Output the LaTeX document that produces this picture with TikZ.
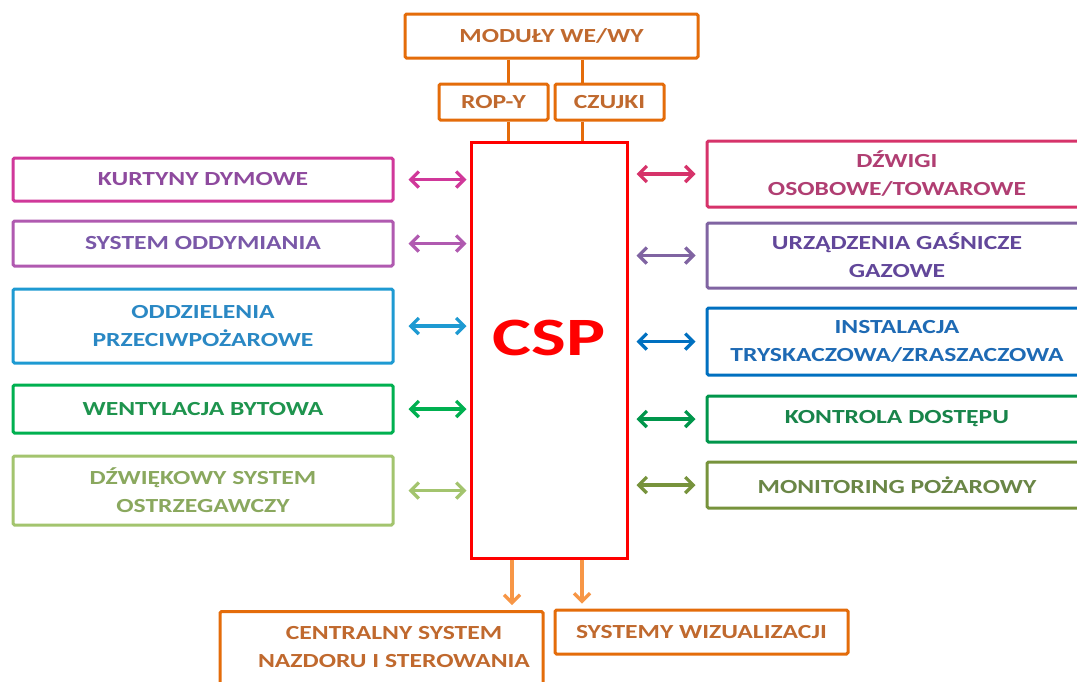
\documentclass[tikz,border=0pt]{standalone}
\usepackage{fontspec}
\setmainfont{Carlito}
\newfontfamily\bxfont[FakeStretch=1.28]{Carlito}
\newfontfamily\cspfont[FakeStretch=1.36]{Carlito}
\usetikzlibrary{arrows.meta}
\definecolor{orng}{HTML}{E46C0A}
\definecolor{orngl}{HTML}{F79646}
\definecolor{orngt}{HTML}{C0692E}
\definecolor{kdc}{HTML}{D0389A}\definecolor{kdt}{HTML}{8E4A9E}
\definecolor{soc}{HTML}{B05AB0}\definecolor{sot}{HTML}{7A58A8}
\definecolor{odc}{HTML}{1E9AD2}\definecolor{odt}{HTML}{2A88C4}
\definecolor{wbc}{HTML}{00B050}\definecolor{wbt}{HTML}{1E944E}
\definecolor{dsc}{HTML}{A3C46E}\definecolor{dst}{HTML}{8AA85E}
\definecolor{dwc}{HTML}{D6336A}\definecolor{dwt}{HTML}{B03E72}
\definecolor{ugc}{HTML}{8064A2}\definecolor{ugt}{HTML}{62479A}
\definecolor{itc}{HTML}{0070C0}\definecolor{itt}{HTML}{1E6AB4}
\definecolor{kcc}{HTML}{00964B}\definecolor{kct}{HTML}{18844A}
\definecolor{mpc}{HTML}{77933C}\definecolor{mpt}{HTML}{6A8646}
\tikzset{
  bx/.style={draw, line width=3pt, rounded corners=1.5pt, fill=white, align=center,
    inner sep=0pt, font=\bxfont\fontsize{20}{28}\selectfont\bfseries},
  arr/.style={line width=3.2pt, {Straight Barb[length=8pt,width=16pt]}-{Straight Barb[length=8pt,width=16pt]}},
  darr/.style={line width=3.2pt, orngl, -{Straight Barb[length=8pt,width=16pt]}},
  vline/.style={line width=3pt, orng},
}
\begin{document}
\begin{tikzpicture}[x=1pt,y=-1pt]
\useasboundingbox (0,0) rectangle (1077,681);
% top
\node[bx, draw=orng, text=orngt, minimum width=293pt, minimum height=44pt] (mod) at (551.5,36) {MODUŁY WE/WY};
\node[bx, draw=orng, text=orngt, minimum width=109pt, minimum height=36pt] (rop) at (493.5,102) {ROP-Y};
\node[bx, draw=orng, text=orngt, minimum width=109pt, minimum height=36pt] (czu) at (609.5,102) {CZUJKI};
% CSP
\node[draw=red, line width=3pt, fill=white, minimum width=156pt, minimum height=416pt, inner sep=0pt] (csp) at (549,350) {};
\node[text=red, font=\cspfont\fontsize{54}{60}\selectfont\bfseries] (csptxt) at (549,338) {CSP};
\coordinate (l1) at (508,0);
\coordinate (l2) at (582,0);
\draw[vline] (mod.south -| l1) -- (rop.north -| l1);
\draw[vline] (mod.south -| l2) -- (czu.north -| l2);
\draw[vline] (rop.south -| l1) -- (csp.north -| l1);
\draw[vline] (czu.south -| l2) -- (csp.north -| l2);
% left
\node[bx, draw=kdc, text=kdt, minimum width=380pt, minimum height=43pt] (kd) at (203,179.5) {KURTYNY DYMOWE};
\node[bx, draw=soc, text=sot, minimum width=380pt, minimum height=45pt] (so) at (203,243.5) {SYSTEM ODDYMIANIA};
\node[bx, draw=odc, text=odt, minimum width=380pt, minimum height=74pt] (od) at (203,326) {ODDZIELENIA\\PRZECIWPOŻAROWE};
\node[bx, draw=wbc, text=wbt, minimum width=380pt, minimum height=48pt] (wb) at (203,409) {WENTYLACJA BYTOWA};
\node[bx, draw=dsc, text=dst, minimum width=380pt, minimum height=69pt] (ds) at (203,490.5) {DŹWIĘKOWY SYSTEM\\OSTRZEGAWCZY};
% right
\node[bx, draw=dwc, text=dwt, minimum width=380pt, minimum height=66pt] (dw) at (897,174) {DŹWIGI\\OSOBOWE/TOWAROWE};
\node[bx, draw=ugc, text=ugt, minimum width=380pt, minimum height=65pt] (ug) at (897,255.5) {URZĄDZENIA GAŚNICZE\\GAZOWE};
\node[bx, draw=itc, text=itt, minimum width=380pt, minimum height=67pt] (it) at (897,341.5) {INSTALACJA\\TRYSKACZOWA/ZRASZACZOWA};
\node[bx, draw=kcc, text=kct, minimum width=380pt, minimum height=46pt] (kc) at (897,419) {KONTROLA DOSTĘPU};
\node[bx, draw=mpc, text=mpt, minimum width=380pt, minimum height=46pt] (mp) at (897,485) {MONITORING POŻAROWY};
% left arrows
\foreach \n/\c in {kd/kdc, so/soc, od/odc, wb/wbc, ds/dsc}
  \draw[arr, draw=\c, shorten <=14pt, shorten >=3pt] (\n.east) -- (csp.west |- \n.east);
\foreach \n/\c in {dw/dwc, ug/ugc, it/itc, kc/kcc, mp/mpc}
  \draw[arr, draw=\c, shorten <=8pt, shorten >=10pt] (csp.east |- \n.west) -- (\n.west);
% bottom
\node[bx, draw=orng, text=orngt, minimum width=323pt, minimum height=80pt, anchor=north] (cs) at (381.5,610) {};
\node[text=orngt, align=center, font=\bxfont\fontsize{20}{28}\selectfont\bfseries] (cstxt) at (394,647) {CENTRALNY SYSTEM\\NAZDORU I STEROWANIA};
\node[bx, draw=orng, text=orngt, minimum width=293pt, minimum height=44pt] (sw) at (701.5,632) {SYSTEMY WIZUALIZACJI};
\coordinate (b1) at (512,0);
\coordinate (b2) at (582,0);
\draw[darr, shorten >=5pt] (csp.south -| b1) -- (cs.north -| b1);
\draw[darr, shorten >=5pt] (csp.south -| b2) -- (sw.north -| b2);
\end{tikzpicture}
\end{document}
